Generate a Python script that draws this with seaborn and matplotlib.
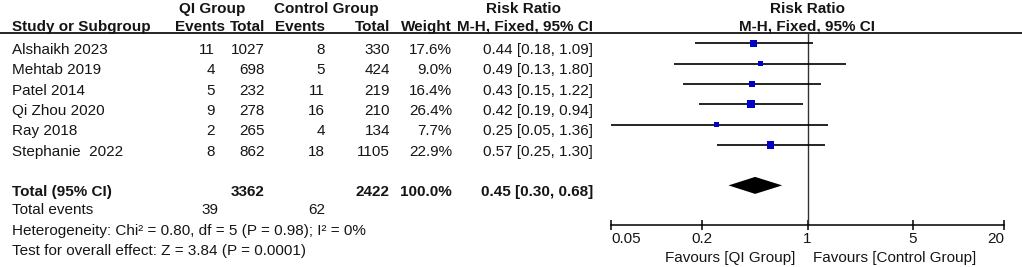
import numpy as np
import pandas as pd
import matplotlib
matplotlib.use("Agg")
import matplotlib.pyplot as plt
from matplotlib.ticker import NullLocator, FixedLocator, FixedFormatter
import seaborn as sns

# ---------------- data ----------------
studies = ["Alshaikh 2023", "Mehtab 2019", "Patel 2014", "Qi Zhou 2020", "Ray 2018", "Stephanie  2022"]
qi_events = [11, 4, 5, 9, 2, 8]
qi_total = [1027, 698, 232, 278, 265, 862]
ctrl_events = [8, 5, 11, 16, 4, 18]
ctrl_total = [330, 424, 219, 210, 134, 1105]
weights = [17.6, 9.0, 16.4, 26.4, 7.7, 22.9]
rr = [0.44, 0.49, 0.43, 0.42, 0.25, 0.57]
ci_low = [0.18, 0.13, 0.15, 0.19, 0.05, 0.25]
ci_high = [1.09, 1.80, 1.22, 0.94, 1.36, 1.30]
pooled = [0.45, 0.30, 0.68]
total_weight = 100.0
heterogeneity = "Heterogeneity: Chi\u00b2 = 0.80, df = 5 (P = 0.98); I\u00b2 = 0%"
overall = "Test for overall effect: Z = 3.84 (P = 0.0001)"
tick_values = [0.05, 0.2, 1, 5, 20]
tick_labels = ["0.05", "0.2", "1", "5", "20"]
favour_left = "Favours [QI Group]"
favour_right = "Favours [Control Group]"

df = pd.DataFrame({"study": studies, "rr": rr, "lo": ci_low, "hi": ci_high,
                   "w": weights, "row": np.arange(len(studies))})

# ---------------- layout ----------------
W_PX, H_PX = 1022, 267
ROW0, ROWH = 43.3, 20.3          # pixel y of first study row, row height
def prow(p):                      # pixel -> row units
    return (p - ROW0) / ROWH
Y_TOP, Y_BOT = prow(0), prow(H_PX)
BASE = 0.53                       # baseline offset of text relative to marks
FS = 11
TXT = "#151515"

sns.set_style("white")
plt.rcParams["font.family"] = ["Liberation Sans", "DejaVu Sans"]

fig = plt.figure(figsize=(W_PX / 100, H_PX / 100), dpi=100)
ax_t = fig.add_axes([0, 0, 1, 1])
ax_t.set_xlim(0, W_PX)
ax_t.set_ylim(Y_BOT, Y_TOP)
ax_t.axis("off")

X0, X1 = 611, 1004
ax_f = fig.add_axes([X0 / W_PX, 0, (X1 - X0) / W_PX, 1])
ax_f.set_xscale("log")
ax_f.set_xlim(tick_values[0], tick_values[-1])
ax_f.set_ylim(Y_BOT, Y_TOP)
ax_f.patch.set_alpha(0)
for s in ["left", "right", "top"]:
    ax_f.spines[s].set_visible(False)
AXIS_ROW = prow(225)
ax_f.spines["bottom"].set_position(("data", AXIS_ROW))
ax_f.spines["bottom"].set_linewidth(1.1)
ax_f.spines["bottom"].set_color("black")
ax_f.xaxis.set_major_locator(FixedLocator(tick_values))
ax_f.xaxis.set_major_formatter(FixedFormatter(tick_labels))
ax_f.xaxis.set_minor_locator(NullLocator())
ax_f.tick_params(axis="x", direction="inout", length=7.2, width=1.1, pad=1.5,
                 labelsize=FS, colors="black", labelcolor=TXT, bottom=True)
ax_f.set_yticks([])
ax_f.set_xlabel("")
ax_f.set_ylabel("")
tl = ax_f.get_xticklabels()
tl[0].set_horizontalalignment("left")
tl[-1].set_horizontalalignment("right")

# header line & vertical line of no effect
HEAD_LINE = prow(32.5)
ax_t.axhline(HEAD_LINE, color="black", lw=1.2)
ax_f.vlines(1, HEAD_LINE, AXIS_ROW, color="#333333", lw=1.0)

# CI lines and study markers
ax_f.hlines(df["row"], df["lo"], df["hi"], color="black", lw=1.2, clip_on=False)
sns.scatterplot(data=df, x="rr", y="row", size="w", sizes=(9.6, 33), size_norm=(7.7, 26.4),
                marker="s", color="#0000C8", linewidth=0, legend=False, ax=ax_f, zorder=3,
                clip_on=False)
ax_f.set_xlabel("")
ax_f.set_ylabel("")

# pooled diamond
TOTAL_ROW = 7
est, lo, hi = pooled
hh = 8.5 / ROWH
ax_f.fill([lo, est, hi, est], [TOTAL_ROW, TOTAL_ROW - hh, TOTAL_ROW, TOTAL_ROW + hh],
          color="black", lw=0)

# ---------------- text table ----------------
def t(x, y, s, ha="right", bold=False, **kw):
    ax_t.text(x, y, s, ha=ha, va="baseline", fontsize=FS, color=TXT,
              fontweight="bold" if bold else "normal", **kw)

H1, H2 = prow(13) , prow(30.7)
t(212, H1, "QI Group", ha="center", bold=True)
t(326, H1, "Control Group", ha="center", bold=True)
t(523, H1, "Risk Ratio", ha="center", bold=True)
t(807, H1, "Risk Ratio", ha="center", bold=True)
t(12, H2, "Study or Subgroup", ha="left", bold=True)
t(225, H2, "Events", bold=True)
t(265, H2, "Total", bold=True)
t(325, H2, "Events", bold=True)
t(390, H2, "Total", bold=True)
t(452, H2, "Weight", bold=True)
t(593, H2, "M-H, Fixed, 95% CI", bold=True)
t(807, H2, "M-H, Fixed, 95% CI", ha="center", bold=True)

for i, r in df.iterrows():
    y = r["row"] + BASE
    t(12, y, r["study"], ha="left")
    t(215, y, f"{qi_events[i]}")
    t(265, y, f"{qi_total[i]}")
    t(325, y, f"{ctrl_events[i]}")
    t(390, y, f"{ctrl_total[i]}")
    t(452, y, f"{r['w']:.1f}%")
    t(593, y, f"{r['rr']:.2f} [{r['lo']:.2f}, {r['hi']:.2f}]")

y = TOTAL_ROW + BASE
t(12, y, "Total (95% CI)", ha="left", bold=True)
t(265, y, f"{sum(qi_total)}", bold=True)
t(390, y, f"{sum(ctrl_total)}", bold=True)
t(452, y, f"{total_weight:.1f}%", bold=True)
t(593, y, f"{est:.2f} [{lo:.2f}, {hi:.2f}]", bold=True)

t(12, prow(214), "Total events", ha="left")
t(218, prow(214), f"{sum(qi_events)}")
t(325, prow(214), f"{sum(ctrl_events)}")
t(12, prow(235), heterogeneity, ha="left")
t(12, prow(255.5), overall, ha="left")

t(795, prow(262), favour_left)
t(813, prow(262), favour_right, ha="left")

fig.savefig("out.png", dpi=100)
